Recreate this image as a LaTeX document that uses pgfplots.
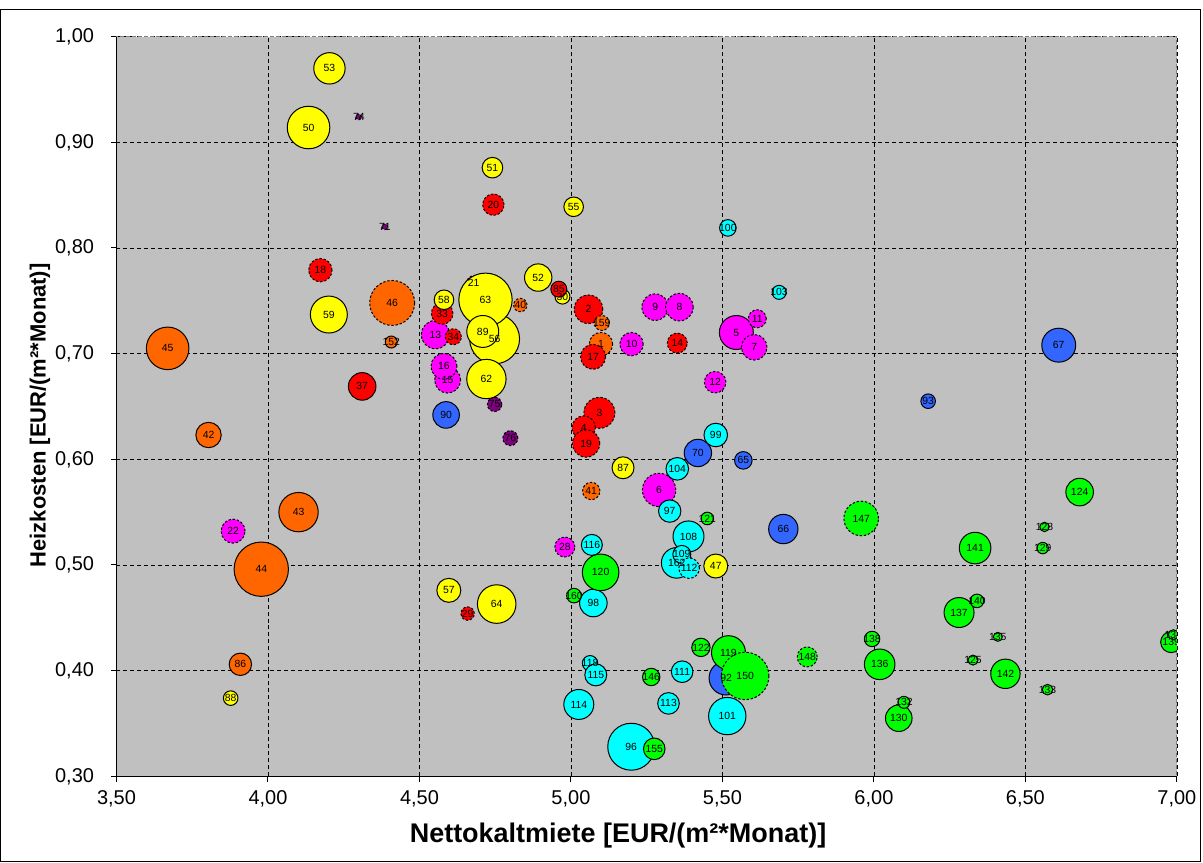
\documentclass[border=0pt]{standalone}
\usepackage{fontspec}
\setmainfont{Liberation Sans}
\usepackage{pgfplots}
\pgfplotsset{compat=1.18}

\definecolor{plotbg}{HTML}{C0C0C0}
\definecolor{cYellow}{HTML}{FFFF00}
\definecolor{cRed}{HTML}{FF0000}
\definecolor{cOrange}{HTML}{FF6600}
\definecolor{cMagenta}{HTML}{FF00FF}
\definecolor{cPurple}{HTML}{800080}
\definecolor{cBlue}{HTML}{3366FF}
\definecolor{cCyan}{HTML}{00FFFF}
\definecolor{cGreen}{HTML}{00FF00}

\pgfplotsset{
  % solid / dashed bubble outline; mark size = bubble radius
  bs/.style={only marks, mark=*, mark options={draw=black, line width=0.5pt, fill=#1, solid}},
  bd/.style={only marks, mark=*, mark options={draw=black, line width=0.5pt, fill=#1,
    dash pattern=on 1.2pt off 0.9pt}},
  lbl/.style={only marks, mark=none, point meta=explicit symbolic, nodes near coords,
    every node near coord/.append style={anchor=center, inner sep=0pt,
      text=black, font=\fontsize{5.2}{5.5}\selectfont}},
}

\begin{document}
\begin{tikzpicture}
\begin{axis}[
  scale only axis, width=530.9pt, height=370.3pt,
  xmin=3.5, xmax=7, ymin=0.3, ymax=1,
  xtick={3.5,4,4.5,5,5.5,6,6.5,7},
  xticklabels={{3,50},{4,00},{4,50},{5,00},{5,50},{6,00},{6,50},{7,00}},
  ytick={0.3,0.4,0.5,0.6,0.7,0.8,0.9,1},
  yticklabels={{0,30},{0,40},{0,50},{0,60},{0,70},{0,80},{0,90},{1,00}},
  xtick pos=left, ytick pos=left,
  tick align=outside, major tick length=2.7pt,
  tick style={black, line width=0.5pt},
  ticklabel style={font=\fontsize{10}{12}\selectfont},
  yticklabel style={xshift=-5pt},
  xticklabel style={yshift=-1pt},
  grid=major,
  major grid style={black, line width=0.4pt, dash pattern=on 2pt off 1.5pt},
  axis line style={draw=black!50, line width=0.5pt, dash pattern=on 2pt off 1pt},
  axis background/.style={fill=plotbg},
  clip marker paths=true,
  xlabel={Nettokaltmiete [EUR/(m²*Monat)]},
  ylabel={Heizkosten [EUR/(m²*Monat)]},
  xlabel style={font=\bfseries\fontsize{13.5}{16}\selectfont,
    at={([yshift=-29.4pt]rel axis cs:0.473,0)}, anchor=center},
  ylabel style={font=\bfseries\fontsize{11}{13}\selectfont,
    at={([xshift=-38.3pt]rel axis cs:0,0.488)}, anchor=center},
]
% orange
\addplot[bs=cOrange, mark size=10.65pt] coordinates {(3.669,0.705)};
\addplot[bs=cOrange, mark size=6.35pt] coordinates {(3.804,0.623)};
\addplot[bs=cOrange, mark size=9.85pt] coordinates {(4.101,0.550)};
\addplot[bs=cOrange, mark size=13.6pt] coordinates {(3.978,0.496)};
\addplot[bs=cOrange, mark size=5.6pt] coordinates {(3.909,0.406)};
\addplot[bs=cOrange, mark size=3.0pt] coordinates {(4.407,0.711)};
\addplot[bd=cOrange, mark size=11.25pt] coordinates {(4.410,0.748)};
\addplot[bd=cOrange, mark size=3.35pt] coordinates {(4.833,0.746)};
\addplot[bd=cOrange, mark size=5.85pt] coordinates {(5.099,0.709)};
\addplot[bd=cOrange, mark size=4.35pt] coordinates {(5.067,0.570)};
% magenta
\addplot[bs=cMagenta, mark size=8.5pt] coordinates {(5.546,0.720)};
\addplot[bd=cMagenta, mark size=6.0pt] coordinates {(3.885,0.532)};
\addplot[bd=cMagenta, mark size=7.1pt] coordinates {(4.553,0.718)};
\addplot[bd=cMagenta, mark size=6.5pt] coordinates {(4.593,0.675)};
\addplot[bd=cMagenta, mark size=6.5pt] coordinates {(4.581,0.688)};
\addplot[bd=cMagenta, mark size=3.5pt] coordinates {(4.679,0.767)};
\addplot[bd=cMagenta, mark size=5.0pt] coordinates {(4.980,0.517)};
\addplot[bd=cMagenta, mark size=5.85pt] coordinates {(5.200,0.709)};
\addplot[bd=cMagenta, mark size=6.65pt] coordinates {(5.278,0.744)};
\addplot[bd=cMagenta, mark size=6.9pt] coordinates {(5.358,0.744)};
\addplot[bd=cMagenta, mark size=4.5pt] coordinates {(5.615,0.733)};
\addplot[bd=cMagenta, mark size=6.4pt] coordinates {(5.605,0.706)};
\addplot[bd=cMagenta, mark size=5.4pt] coordinates {(5.476,0.673)};
\addplot[bd=cMagenta, mark size=8.35pt] coordinates {(5.291,0.571)};
% purple
\addplot[bd=cPurple, mark size=1.4pt] coordinates {(4.300,0.924)};
\addplot[bd=cPurple, mark size=1.4pt] coordinates {(4.386,0.820)};
\addplot[bd=cPurple, mark size=3.6pt] coordinates {(4.748,0.652)};
\addplot[bd=cPurple, mark size=3.75pt] coordinates {(4.800,0.620)};
% yellow
\addplot[bs=cYellow, mark size=7.85pt] coordinates {(4.203,0.970)};
\addplot[bs=cYellow, mark size=10.65pt] coordinates {(4.134,0.914)};
\addplot[bs=cYellow, mark size=5.15pt] coordinates {(4.741,0.876)};
\addplot[bs=cYellow, mark size=4.9pt] coordinates {(5.009,0.839)};
\addplot[bs=cYellow, mark size=6.85pt] coordinates {(4.892,0.772)};
\addplot[bs=cYellow, mark size=9.25pt] coordinates {(4.201,0.737)};
\addplot[bs=cYellow, mark size=12.5pt] coordinates {(4.748,0.714)};
\addplot[bs=cYellow, mark size=13.35pt] coordinates {(4.718,0.751)};
\addplot[bs=cYellow, mark size=8.0pt] coordinates {(4.709,0.721)};
\addplot[bs=cYellow, mark size=9.85pt] coordinates {(4.721,0.676)};
\addplot[bs=cYellow, mark size=3.75pt] coordinates {(4.972,0.754)};
\addplot[bs=cYellow, mark size=5.5pt] coordinates {(5.172,0.592)};
\addplot[bs=cYellow, mark size=6.0pt] coordinates {(4.597,0.476)};
\addplot[bs=cYellow, mark size=9.65pt] coordinates {(4.755,0.463)};
\addplot[bs=cYellow, mark size=6.0pt] coordinates {(5.478,0.499)};
\addplot[bs=cYellow, mark size=3.65pt] coordinates {(3.877,0.374)};
% red
\addplot[bs=cRed, mark size=6.9pt] coordinates {(4.311,0.669)};
\addplot[bs=cRed, mark size=4.0pt] coordinates {(4.960,0.761)};
\addplot[bd=cRed, mark size=5.85pt] coordinates {(4.173,0.779)};
\addplot[bd=cRed, mark size=5.35pt] coordinates {(4.744,0.841)};
\addplot[bd=cRed, mark size=5.4pt] coordinates {(4.575,0.738)};
\addplot[bs=cYellow, mark size=4.9pt] coordinates {(4.581,0.751)};
\addplot[bd=cRed, mark size=4.0pt] coordinates {(4.612,0.716)};
\addplot[bd=cRed, mark size=7.15pt] coordinates {(5.058,0.742)};
\addplot[bd=cOrange, mark size=3.75pt] coordinates {(5.102,0.729)};
\addplot[bd=cRed, mark size=6.25pt] coordinates {(5.073,0.697)};
\addplot[bd=cRed, mark size=5.0pt] coordinates {(5.351,0.710)};
\addplot[bd=cRed, mark size=7.75pt] coordinates {(5.094,0.644)};
\addplot[bd=cRed, mark size=5.85pt] coordinates {(5.042,0.630)};
\addplot[bd=cRed, mark size=6.85pt] coordinates {(5.050,0.615)};
\addplot[bd=cRed, mark size=3.35pt] coordinates {(4.659,0.454)};
% blue
\addplot[bs=cBlue, mark size=6.65pt] coordinates {(4.588,0.642)};
\addplot[bs=cBlue, mark size=6.85pt] coordinates {(5.419,0.606)};
\addplot[bs=cBlue, mark size=4.4pt] coordinates {(5.569,0.599)};
\addplot[bs=cBlue, mark size=7.35pt] coordinates {(5.701,0.534)};
\addplot[bs=cBlue, mark size=8.5pt] coordinates {(6.610,0.708)};
\addplot[bs=cBlue, mark size=3.65pt] coordinates {(6.179,0.655)};
\addplot[bs=cBlue, mark size=8.5pt] coordinates {(5.512,0.393)};
% cyan
\addplot[bs=cCyan, mark size=4.15pt] coordinates {(5.518,0.819)};
\addplot[bs=cCyan, mark size=3.5pt] coordinates {(5.687,0.758)};
\addplot[bs=cCyan, mark size=5.9pt] coordinates {(5.478,0.623)};
\addplot[bs=cCyan, mark size=5.65pt] coordinates {(5.351,0.591)};
\addplot[bs=cCyan, mark size=5.6pt] coordinates {(5.326,0.551)};
\addplot[bs=cCyan, mark size=7.75pt] coordinates {(5.388,0.527)};
\addplot[bs=cCyan, mark size=7.65pt] coordinates {(5.349,0.502)};
\addplot[bs=cCyan, mark size=4.5pt] coordinates {(5.366,0.510)};
\addplot[bd=cCyan, mark size=5.15pt] coordinates {(5.390,0.497)};
\addplot[bs=cCyan, mark size=5.25pt] coordinates {(5.069,0.519)};
\addplot[bs=cCyan, mark size=6.9pt] coordinates {(5.074,0.464)};
\addplot[bs=cCyan, mark size=3.85pt] coordinates {(5.063,0.407)};
\addplot[bs=cCyan, mark size=5.5pt] coordinates {(5.082,0.396)};
\addplot[bs=cCyan, mark size=7.5pt] coordinates {(5.026,0.368)};
\addplot[bs=cCyan, mark size=11.75pt] coordinates {(5.199,0.328)};
\addplot[bs=cCyan, mark size=5.4pt] coordinates {(5.367,0.399)};
\addplot[bs=cCyan, mark size=5.4pt] coordinates {(5.322,0.369)};
\addplot[bs=cCyan, mark size=9.35pt] coordinates {(5.516,0.357)};
% green
\addplot[bs=cGreen, mark size=9.15pt] coordinates {(5.098,0.493)};
\addplot[bs=cGreen, mark size=3.65pt] coordinates {(5.010,0.471)};
\addplot[bs=cGreen, mark size=3.15pt] coordinates {(5.450,0.544)};
\addplot[bs=cGreen, mark size=4.6pt] coordinates {(5.429,0.422)};
\addplot[bs=cGreen, mark size=8.5pt] coordinates {(5.520,0.417)};
\addplot[bs=cGreen, mark size=4.35pt] coordinates {(5.265,0.394)};
\addplot[bs=cGreen, mark size=5.4pt] coordinates {(5.275,0.326)};
\addplot[bs=cGreen, mark size=3.85pt] coordinates {(5.994,0.430)};
\addplot[bs=cGreen, mark size=7.65pt] coordinates {(6.019,0.406)};
\addplot[bs=cGreen, mark size=6.65pt] coordinates {(6.082,0.355)};
\addplot[bs=cGreen, mark size=3.0pt] coordinates {(6.099,0.370)};
\addplot[bs=cGreen, mark size=6.9pt] coordinates {(6.679,0.569)};
\addplot[bs=cGreen, mark size=2.35pt] coordinates {(6.563,0.536)};
\addplot[bs=cGreen, mark size=7.9pt] coordinates {(6.334,0.516)};
\addplot[bs=cGreen, mark size=2.85pt] coordinates {(6.557,0.516)};
\addplot[bs=cGreen, mark size=7.5pt] coordinates {(6.281,0.455)};
\addplot[bs=cGreen, mark size=3.4pt] coordinates {(6.340,0.466)};
\addplot[bs=cGreen, mark size=2.25pt] coordinates {(6.409,0.432)};
\addplot[bs=cGreen, mark size=2.5pt] coordinates {(6.327,0.410)};
\addplot[bs=cGreen, mark size=7.35pt] coordinates {(6.434,0.397)};
\addplot[bs=cGreen, mark size=2.65pt] coordinates {(6.573,0.382)};
\addplot[bs=cGreen, mark size=5.25pt] coordinates {(6.981,0.427)};
\addplot[bs=cGreen, mark size=2.5pt] coordinates {(6.988,0.434)};
\addplot[bd=cGreen, mark size=8.65pt] coordinates {(5.958,0.544)};
\addplot[bd=cGreen, mark size=5.0pt] coordinates {(5.780,0.413)};
\addplot[bd=cGreen, mark size=11.9pt] coordinates {(5.575,0.395)};
% data labels, drawn over all bubbles
\addplot[lbl] coordinates {
(3.669,0.705) [45] (3.804,0.623) [42] (4.101,0.550) [43] (3.978,0.496) [44]
(3.909,0.406) [86] (4.407,0.711) [152] (4.410,0.748) [46] (4.833,0.746) [40]
(5.099,0.709) [1] (5.067,0.570) [41] (5.102,0.729) [159]
(5.546,0.720) [5] (3.885,0.532) [22] (4.553,0.718) [13] (4.593,0.675) [15]
(4.581,0.688) [16] (4.679,0.767) [21] (4.980,0.517) [28] (5.200,0.709) [10]
(5.278,0.744) [9] (5.358,0.744) [8] (5.615,0.733) [11] (5.605,0.706) [7]
(5.476,0.673) [12] (5.291,0.571) [6]
(4.300,0.924) [74] (4.386,0.820) [71] (4.748,0.652) [75] (4.800,0.620) [76]
(4.203,0.970) [53] (4.134,0.914) [50] (4.741,0.876) [51] (5.009,0.839) [55]
(4.892,0.772) [52] (4.201,0.737) [59] (4.748,0.714) [56] (4.718,0.751) [63]
(4.709,0.721) [89] (4.721,0.676) [62] (4.581,0.751) [58] (4.972,0.754) [30]
(5.172,0.592) [87] (4.597,0.476) [57] (4.755,0.463) [64] (5.478,0.499) [47]
(3.877,0.374) [88]
(4.311,0.669) [37] (4.960,0.761) [85] (4.173,0.779) [18] (4.744,0.841) [20]
(4.575,0.738) [33] (4.612,0.716) [34] (5.058,0.742) [2] (5.073,0.697) [17]
(5.351,0.710) [14] (5.094,0.644) [3] (5.042,0.630) [4] (5.050,0.615) [19]
(4.659,0.454) [29]
(4.588,0.642) [90] (5.419,0.606) [70] (5.569,0.599) [65] (5.701,0.534) [66]
(6.610,0.708) [67] (6.179,0.655) [93] (5.512,0.393) [92]
(5.518,0.819) [100] (5.687,0.758) [103] (5.478,0.623) [99] (5.351,0.591) [104]
(5.326,0.551) [97] (5.388,0.527) [108] (5.349,0.502) [162] (5.366,0.510) [109]
(5.390,0.497) [112] (5.069,0.519) [116] (5.074,0.464) [98] (5.063,0.407) [118]
(5.082,0.396) [115] (5.026,0.368) [114] (5.199,0.328) [96] (5.367,0.399) [111]
(5.322,0.369) [113] (5.516,0.357) [101]
(5.098,0.493) [120] (5.010,0.471) [160] (5.450,0.544) [121] (5.429,0.422) [122]
(5.520,0.417) [119] (5.265,0.394) [146] (5.275,0.326) [155] (5.994,0.430) [138]
(6.019,0.406) [136] (6.082,0.355) [130] (6.099,0.370) [132] (6.679,0.569) [124]
(6.563,0.536) [128] (6.334,0.516) [141] (6.557,0.516) [129] (6.281,0.455) [137]
(6.340,0.466) [140] (6.409,0.432) [135] (6.327,0.410) [125] (6.434,0.397) [142]
(6.573,0.382) [133] (6.981,0.427) [139] (6.988,0.434) [134]
(5.958,0.544) [147] (5.780,0.413) [148] (5.575,0.395) [150]
};
\coordinate (A) at (rel axis cs:0,0);
\coordinate (B) at (rel axis cs:1,1);
\end{axis}
\draw[black, line width=0.6pt] (A|-B) -- (A) -- (B|-A);
\draw[black, line width=0.5pt] ([shift={(-57.8pt,-42.85pt)}]A) rectangle ([shift={(11.8pt,13.35pt)}]B);
\path ([shift={(-58.3pt,-43.35pt)}]A) rectangle ([shift={(12.3pt,18.35pt)}]B);
\end{tikzpicture}
\end{document}
